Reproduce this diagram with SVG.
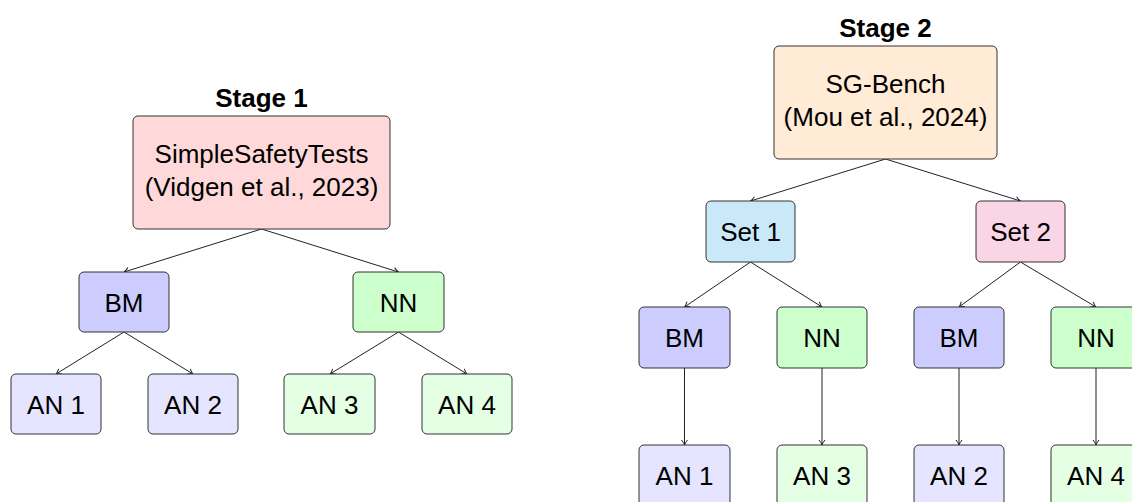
<svg xmlns="http://www.w3.org/2000/svg" width="1132" height="502" viewBox="0 0 1132 502">
<style>
.box{stroke:#333;stroke-width:1;}
.t{font-family:"Liberation Sans",Arial,Helvetica,sans-serif;font-size:26px;fill:#000;text-anchor:middle;}
.title{font-family:"Liberation Sans",Arial,Helvetica,sans-serif;font-size:26px;font-weight:bold;fill:#000;text-anchor:middle;}
.e{stroke:#222;stroke-width:1;fill:none;marker-end:url(#arr);}
.red{fill:#ffd9d9}.org{fill:#ffebd6}.cyan{fill:#c9e9f8}.pink{fill:#f9d5e5}
.bm{fill:#ccccff}.nn{fill:#ccffcc}.anb{fill:#e5e5ff}.ang{fill:#e5ffe5}
</style>
<defs>
<marker id="arr" viewBox="-6 -4 7 8" markerWidth="7" markerHeight="8" refX="0" refY="0" orient="auto" markerUnits="userSpaceOnUse">
<path d="M-5,-3 Q-2,-0.5 0,0 Q-2,0.5 -5,3" fill="none" stroke="#222" stroke-width="1"/>
</marker>
</defs>
<rect width="1132" height="502" fill="#fff"/>
<g id="connectors">
<line class="e" x1="261.5" y1="229" x2="124" y2="272"/>
<line class="e" x1="261.5" y1="229" x2="398.5" y2="272"/>
<line class="e" x1="124" y1="332" x2="56" y2="374"/>
<line class="e" x1="124" y1="332" x2="193" y2="374"/>
<line class="e" x1="398.5" y1="332" x2="330" y2="374"/>
<line class="e" x1="398.5" y1="332" x2="467" y2="374"/>
<line class="e" x1="885.5" y1="159" x2="750.5" y2="201"/>
<line class="e" x1="885.5" y1="159" x2="1020.5" y2="201"/>
<line class="e" x1="750.5" y1="262" x2="684.5" y2="307"/>
<line class="e" x1="750.5" y1="262" x2="822" y2="307"/>
<line class="e" x1="1020.5" y1="262" x2="959" y2="307"/>
<line class="e" x1="1020.5" y1="262" x2="1096" y2="307"/>
<line class="e" x1="684.5" y1="368" x2="684.5" y2="445"/>
<line class="e" x1="822" y1="368" x2="822" y2="445"/>
<line class="e" x1="959" y1="368" x2="959" y2="445"/>
<line class="e" x1="1096" y1="368" x2="1096" y2="445"/>
</g>
<g id="stage1">
<text class="title" x="261.5" y="107">Stage 1</text>
<rect class="box red" x="133" y="116" width="257" height="113" rx="5"/>
<text class="t" x="261.5" y="163">SimpleSafetyTests</text>
<text class="t" x="261.5" y="196">(Vidgen et al., 2023)</text>
</g>
<g id="s1-bm"><rect class="box bm" x="79" y="272" width="90" height="60" rx="5"/><text class="t" x="124" y="311.5">BM</text></g>
<g id="s1-nn"><rect class="box nn" x="353" y="272" width="91" height="60" rx="5"/><text class="t" x="398.5" y="311.5">NN</text></g>
<g id="s1-an1"><rect class="box anb" x="11" y="374" width="90" height="60" rx="5"/><text class="t" x="56" y="413.5">AN 1</text></g>
<g id="s1-an2"><rect class="box anb" x="148" y="374" width="90" height="60" rx="5"/><text class="t" x="193" y="413.5">AN 2</text></g>
<g id="s1-an3"><rect class="box ang" x="284" y="374" width="91" height="60" rx="5"/><text class="t" x="329.5" y="413.5">AN 3</text></g>
<g id="s1-an4"><rect class="box ang" x="422" y="374" width="90" height="60" rx="5"/><text class="t" x="467" y="413.5">AN 4</text></g>
<g id="stage2">
<text class="title" x="885.5" y="37">Stage 2</text>
<rect class="box org" x="774" y="46" width="223" height="113" rx="5"/>
<text class="t" x="885.5" y="93">SG-Bench</text>
<text class="t" x="885.5" y="126">(Mou et al., 2024)</text>
</g>
<g id="set1"><rect class="box cyan" x="706" y="201" width="89" height="61" rx="5"/><text class="t" x="750.5" y="241">Set 1</text></g>
<g id="set2"><rect class="box pink" x="976" y="201" width="89" height="61" rx="5"/><text class="t" x="1020.5" y="241">Set 2</text></g>
<g id="s2-bm1"><rect class="box bm" x="639" y="307" width="91" height="61" rx="5"/><text class="t" x="684.5" y="347">BM</text></g>
<g id="s2-nn1"><rect class="box nn" x="777" y="307" width="90" height="61" rx="5"/><text class="t" x="822" y="347">NN</text></g>
<g id="s2-bm2"><rect class="box bm" x="914" y="307" width="90" height="61" rx="5"/><text class="t" x="959" y="347">BM</text></g>
<g id="s2-nn2"><rect class="box nn" x="1051" y="307" width="90" height="61" rx="5"/><text class="t" x="1096" y="347">NN</text></g>
<g id="s2-an1"><rect class="box anb" x="639" y="445" width="91" height="61" rx="5"/><text class="t" x="684.5" y="485">AN 1</text></g>
<g id="s2-an3"><rect class="box ang" x="777" y="445" width="90" height="61" rx="5"/><text class="t" x="822" y="485">AN 3</text></g>
<g id="s2-an2"><rect class="box anb" x="914" y="445" width="90" height="61" rx="5"/><text class="t" x="959" y="485">AN 2</text></g>
<g id="s2-an4"><rect class="box ang" x="1051" y="445" width="90" height="61" rx="5"/><text class="t" x="1096" y="485">AN 4</text></g>
</svg>
